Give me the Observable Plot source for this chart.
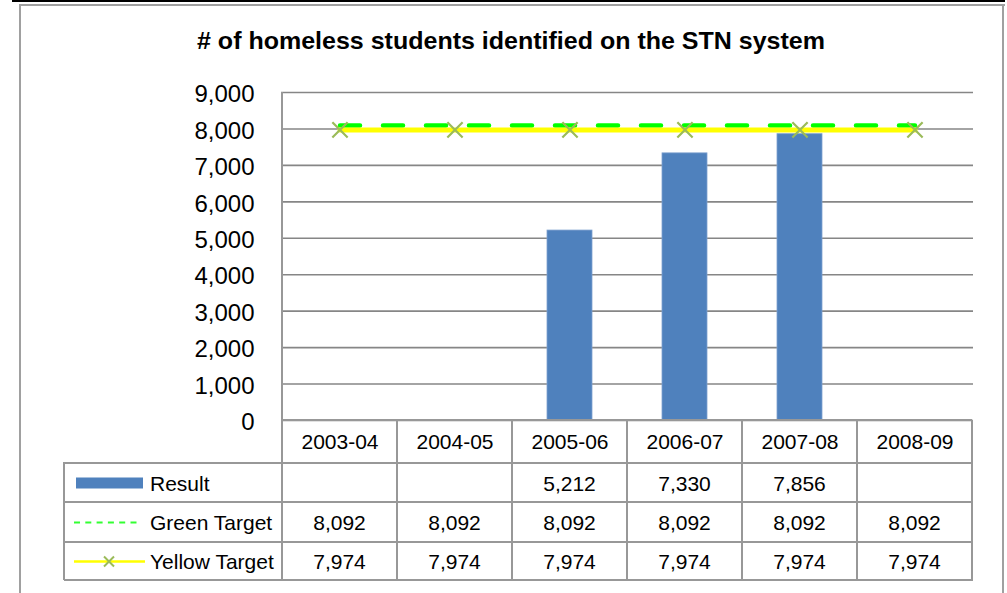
<!DOCTYPE html>
<html><head><meta charset="utf-8">
<script src="https://cdn.jsdelivr.net/npm/d3@7"></script>
<script src="https://cdn.jsdelivr.net/npm/@observablehq/plot@0.6"></script>
<style>
body{margin:0;background:#fff;}
#wrap{position:relative;width:1007px;height:593px;overflow:hidden;font-family:"Liberation Sans",Arial,sans-serif;color:#000;}
.abs{position:absolute;}
.cell{position:absolute;display:flex;align-items:center;justify-content:center;font-size:21px;white-space:nowrap;}
</style></head><body><div id="wrap"></div>
<script>
const years = ["2003-04","2004-05","2005-06","2006-07","2007-08","2008-09"];
const resultValues = [null, null, 5212, 7330, 7856, null];
const greenTarget = [8092, 8092, 8092, 8092, 8092, 8092];
const yellowTarget = [7974, 7974, 7974, 7974, 7974, 7974];
const yTicks = [0, 1000, 2000, 3000, 4000, 5000, 6000, 7000, 8000, 9000];
const seriesNames = ["Result", "Green Target", "Yellow Target"];
const titleText = "# of homeless students identified on the STN system";

const rows = years.map((year, i) => ({year, result: resultValues[i], green: greenTarget[i], yellow: yellowTarget[i]}));
const fmt = d3.format(",");
const wrap = document.getElementById("wrap");

const plot = Plot.plot({
  width: 1007, height: 593,
  marginTop: 92, marginBottom: 173, marginLeft: 281, marginRight: 34,
  style: {fontFamily: "'Liberation Sans',Arial,sans-serif", color: "#000", background: "transparent"},
  x: {domain: years, paddingInner: 0.61, paddingOuter: 0.305},
  y: {domain: [0, 9000]},
  marks: [
    Plot.ruleY(yTicks, {stroke: "#868686", strokeWidth: 1.6}),
    Plot.axisY({ticks: yTicks, tickSize: 0, tickPadding: 27, fontSize: 24, tickFormat: fmt, dy: 2, label: null}),
    Plot.axisX({tickSize: 0, tickPadding: 14, fontSize: 21, label: null}),
    Plot.barY(rows.filter(d => d.result != null), {x: "year", y: "result", fill: "#4F81BD", stroke: "#7EA1CF", strokeWidth: 0.8}),
    Plot.line(rows, {x: "year", y: "green", stroke: "#00FF00", strokeWidth: 4.5, strokeDasharray: "20,23", strokeLinecap: "round"}),
    Plot.line(rows, {x: "year", y: "yellow", stroke: "#FFFF00", strokeWidth: 5}),
    Plot.dot(rows, {x: "year", y: "yellow", symbol: "times", stroke: "#9BBB59", strokeWidth: 2.2, r: 7})
  ]
});
plot.style.position = "absolute";
plot.style.left = "0px";
plot.style.top = "0px";
wrap.appendChild(plot);

function box(l, t, w, h, bg) {
  const d = document.createElement("div");
  d.className = "abs";
  Object.assign(d.style, {left: l + "px", top: t + "px", width: w + "px", height: h + "px", background: bg});
  wrap.appendChild(d);
  return d;
}
// page frame
box(12, 0, 993, 1.5, "#000");
box(18.5, 3.5, 986, 2, "#a0a0a0");
box(18.5, 3.5, 2, 600, "#a0a0a0");
box(1001.5, 3.5, 2.5, 600, "#a0a0a0");

// title
const ns = "http://www.w3.org/2000/svg";
const tsvg = document.createElementNS(ns, "svg");
tsvg.setAttribute("width", 1007); tsvg.setAttribute("height", 70);
Object.assign(tsvg.style, {position: "absolute", left: "0px", top: "0px"});
const tt = document.createElementNS(ns, "text");
tt.setAttribute("x", 511); tt.setAttribute("y", 49);
tt.setAttribute("text-anchor", "middle");
tt.setAttribute("font-family", "'Liberation Sans',Arial,sans-serif");
tt.setAttribute("font-weight", "bold");
tt.setAttribute("font-size", 24);
tt.setAttribute("textLength", 628);
tt.setAttribute("lengthAdjust", "spacingAndGlyphs");
tt.textContent = titleText;
tsvg.appendChild(tt);
wrap.appendChild(tsvg);

// data table
const xs = plot.scale("x");
const ys = plot.scale("y");
const step = xs.step, bw = xs.bandwidth;
const colLeft = years.map(y => xs.apply(y) + bw / 2 - step / 2);
const tableRight = colLeft[colLeft.length - 1] + step;
const plotLeft = colLeft[0];
const y0 = ys.apply(0), yTop = ys.apply(9000);
const rowEdges = [y0, 463, 502, 542, 580];
const legendLeft = 64;
const lineCol = "#989898";
// axis line on left (plot area left edge continuing into table)
box(plotLeft - 1, yTop, 2, rowEdges[4] - yTop + 1, lineCol);
// horizontal table lines
box(plotLeft, y0 - 1, tableRight - plotLeft, 2, lineCol);
for (let r = 1; r < rowEdges.length; r++) box(legendLeft, rowEdges[r] - 1, tableRight - legendLeft + 1, 2, lineCol);
// vertical lines
box(legendLeft - 1, rowEdges[1] - 1, 2, rowEdges[4] - rowEdges[1] + 1, lineCol);
for (let c = 1; c <= years.length; c++) {
  const xl = c < years.length ? colLeft[c] : tableRight;
  box(xl - 1, y0, 2, rowEdges[4] - y0 + 1, lineCol);
}
// values
const series = [resultValues, greenTarget, yellowTarget];
series.forEach((vals, r) => {
  vals.forEach((v, c) => {
    if (v == null) return;
    const d = document.createElement("div");
    d.className = "cell";
    Object.assign(d.style, {left: colLeft[c] + "px", top: (rowEdges[r + 1] + 1) + "px", width: step + "px", height: (rowEdges[r + 2] - rowEdges[r + 1]) + "px"});
    d.textContent = fmt(v);
    wrap.appendChild(d);
  });
});
// legend keys
seriesNames.forEach((name, r) => {
  const top = rowEdges[r + 1], h = rowEdges[r + 2] - rowEdges[r + 1];
  const s = document.createElementNS(ns, "svg");
  s.setAttribute("width", 80); s.setAttribute("height", h);
  Object.assign(s.style, {position: "absolute", left: "70px", top: top + "px"});
  const cy = h / 2 + 0.5;
  if (r === 0) {
    const rect = document.createElementNS(ns, "rect");
    rect.setAttribute("x", 6); rect.setAttribute("y", cy - 5.5); rect.setAttribute("width", 67); rect.setAttribute("height", 11);
    rect.setAttribute("fill", "#4F81BD");
    s.appendChild(rect);
  } else if (r === 1) {
    const l = document.createElementNS(ns, "line");
    l.setAttribute("x1", 4); l.setAttribute("x2", 69); l.setAttribute("y1", cy); l.setAttribute("y2", cy);
    l.setAttribute("stroke", "#33ff33"); l.setAttribute("stroke-width", 2); l.setAttribute("stroke-dasharray", "6,5.3");
    s.appendChild(l);
  } else {
    const l = document.createElementNS(ns, "line");
    l.setAttribute("x1", 4); l.setAttribute("x2", 75); l.setAttribute("y1", cy); l.setAttribute("y2", cy);
    l.setAttribute("stroke", "#FFFF00"); l.setAttribute("stroke-width", 2.5);
    s.appendChild(l);
    const p = document.createElementNS(ns, "path");
    p.setAttribute("d", `M${39 - 5},${cy - 5}L${39 + 5},${cy + 5}M${39 - 5},${cy + 5}L${39 + 5},${cy - 5}`);
    p.setAttribute("stroke", "#9BBB59"); p.setAttribute("stroke-width", 2);
    s.appendChild(p);
  }
  wrap.appendChild(s);
  const t = document.createElement("div");
  t.className = "cell";
  Object.assign(t.style, {left: "150px", top: (top + 1) + "px", height: h + "px", justifyContent: "flex-start"});
  t.textContent = name;
  wrap.appendChild(t);
});
</script></body></html>
